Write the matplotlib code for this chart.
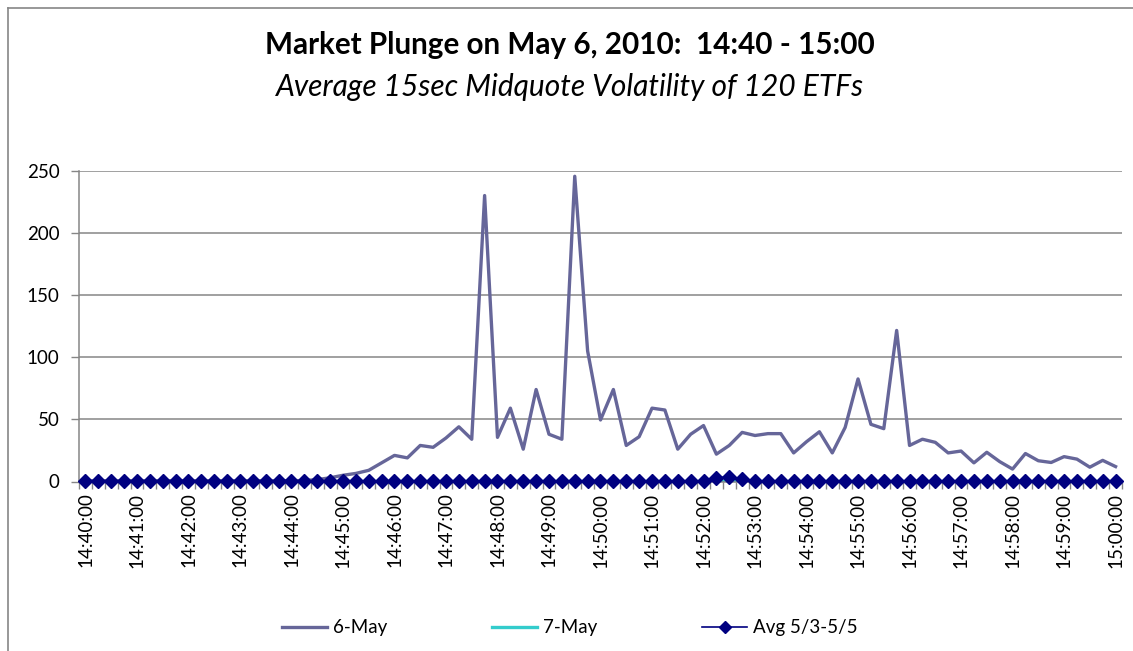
import matplotlib.pyplot as plt
from matplotlib.lines import Line2D
import numpy as np

# 15-second buckets, 14:40:00 .. 15:00:00
times = [f"{14 + (40 * 60 + 15 * k) // 3600}:{((40 * 60 + 15 * k) // 60) % 60:02d}:{(15 * k) % 60:02d}"
         for k in range(81)]

may6 = [0.5, 0.5, 0.5, 0.5, 0.5, 0.5, 0.5, 0.5, 0.5, 0.5,
        0.5, 0.5, 0.5, 0.5, 0.5, 0.5, 0.6, 0.8, 1.5, 3,
        5, 6.5, 9, 15, 21, 19, 29, 27.5, 35, 44,
        34, 230, 35.5, 59, 26, 74, 38, 34, 245.5, 105,
        49.5, 74, 29, 36, 59, 57.5, 26, 38, 45, 22,
        29, 39.5, 37, 38.5, 38.5, 23, 32, 40, 23, 43.5,
        82.5, 46, 42.5, 121.5, 29, 34, 31.5, 23, 24.5, 15,
        23.5, 16, 10, 22.5, 16.7, 15.3, 20, 18, 11.5, 17,
        12]
may7 = [0.6] * 81
avg_3_5 = [0.3] * 49 + [3.2, 3.5, 2.2] + [0.3] * 29

fig = plt.figure(figsize=(11.33, 6.51), dpi=100)
plt.rcParams["font.family"] = ["Lato", "DejaVu Sans"]

ax = fig.add_axes([79 / 1133, 1 - 481.5 / 651, (1122 - 79) / 1133, (481.5 - 170.7) / 651])

x = np.arange(len(times))
grey = "#868686"

ax.plot(x, may6, color="#666699", lw=2.4, label="6-May", zorder=3)
ax.plot(x, may7, color="#33CCCC", lw=2.4, label="7-May", zorder=2)
ax.plot(x, avg_3_5, color="#000080", lw=1.2, marker="D", markersize=7.6,
        markerfacecolor="#000080", markeredgecolor="#000080", label="Avg 5/3-5/5",
        zorder=4, clip_on=False)

ax.set_xlim(-0.5, len(times) - 0.5)
ax.set_ylim(0, 250)
ax.set_yticks(range(0, 251, 50))
ax.yaxis.grid(True, color=grey, lw=1.1)
ax.set_axisbelow(True)

ax.set_xticks(x[::4])
ax.set_xticklabels(times[::4], rotation=90)
ax.set_xticks(np.arange(-0.5, len(times), 1), minor=True)
ax.tick_params(axis="x", which="major", length=0, pad=8, labelsize=13.5)
ax.tick_params(axis="x", which="minor", length=5, color=grey, width=1)
ax.tick_params(axis="y", length=6, color=grey, width=1, pad=8, labelsize=13.5)

for s in ["top", "right"]:
    ax.spines[s].set_visible(False)
for s in ["left", "bottom"]:
    ax.spines[s].set_color(grey)
    ax.spines[s].set_linewidth(1.1)

fig.text(0.503, 1 - 45 / 651, "Market Plunge on May 6, 2010:  14:40 - 15:00",
         ha="center", va="center", fontsize=21.3, fontweight="bold")
fig.text(0.503, 1 - 87 / 651, "Average 15sec Midquote Volatility of 120 ETFs",
         ha="center", va="center", fontsize=21.5, style="italic")

fig.legend(loc="center", bbox_to_anchor=(0.503, 1 - 628 / 651), ncol=3, frameon=False,
           fontsize=13.5, handlelength=2.4, handletextpad=0.3, columnspacing=5.6,
           markerscale=0.8)

# chart area border (left and top edges visible)
fig.add_artist(Line2D([7.5 / 1133, 7.5 / 1133], [0, 1 - 7.5 / 651], color=grey, lw=1.2))
fig.add_artist(Line2D([7.5 / 1133, 1], [1 - 7.5 / 651, 1 - 7.5 / 651], color=grey, lw=1.2))

fig.savefig("out.png", dpi=100)
